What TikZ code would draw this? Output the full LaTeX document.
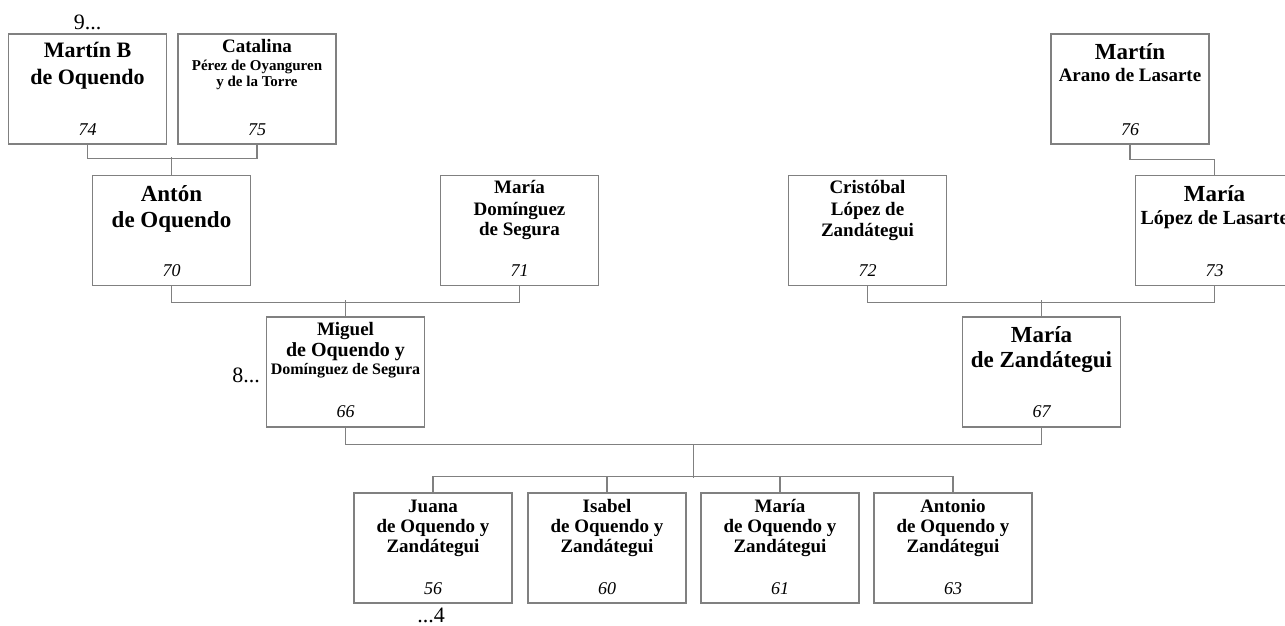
\documentclass[tikz,border=0pt]{standalone}
\usepackage{fontspec}
\setmainfont{Liberation Serif}
\usetikzlibrary{calc}
\definecolor{lc}{RGB}{128,128,128}
\tikzset{
 pbox/.style={draw=lc, line width=1.2pt, minimum width=158pt, minimum height=110pt, inner sep=0pt},
 tline/.style={anchor=base, inner sep=0pt},
 conn/.style={draw=lc, line width=1.2pt},
 gen/.style={anchor=base, inner sep=0pt, font=\fontsize{22}{22}\selectfont},
}
\newcommand\nmline[5]{\node[tline,font={#4}] (#1) at (#2,#3) {#5};}
\newcommand\bsz[1]{\fontsize{#1}{#1}\selectfont\bfseries}
\newcommand\isz{\fontsize{18}{18}\selectfont\itshape}
\begin{document}
\begin{tikzpicture}[x=1pt,y=-1pt]
\useasboundingbox (0,0) rectangle (1285,625);
% boxes
\node[pbox] (p74) at (87.5,89) {};
\node[pbox] (p75) at (257,89) {};
\node[pbox] (p76) at (1130,89) {};
\node[pbox] (p70) at (171.5,230.5) {};
\node[pbox] (p71) at (519.5,230.5) {};
\node[pbox] (p72) at (867.5,230.5) {};
\node[pbox] (p73) at (1214.5,230.5) {};
\node[pbox] (p66) at (345.5,372) {};
\node[pbox] (p67) at (1041.5,372) {};
\node[pbox] (c56) at (433,548) {};
\node[pbox] (c60) at (607,548) {};
\node[pbox] (c61) at (780,548) {};
\node[pbox] (c63) at (953,548) {};
% texts
\nmline{t74a}{87.5}{57.5}{\bsz{22}}{Martín B}
\nmline{t74b}{87.5}{84}{\bsz{22}}{de Oquendo}
\nmline{n74}{87.5}{135}{\isz}{74}
\nmline{t75a}{257}{52}{\bsz{19}}{Catalina}
\nmline{t75b}{257}{70}{\bsz{15}}{Pérez de Oyanguren}
\nmline{t75c}{257}{86}{\bsz{15}}{y de la Torre}
\nmline{n75}{257}{135}{\isz}{75}
\nmline{t76a}{1130}{59}{\bsz{23}}{Martín}
\nmline{t76b}{1130}{81}{\bsz{19}}{Arano de Lasarte}
\nmline{n76}{1130}{135}{\isz}{76}
\nmline{t70a}{171.5}{201}{\bsz{23}}{Antón}
\nmline{t70b}{171.5}{227}{\bsz{23}}{de Oquendo}
\nmline{n70}{171.5}{276}{\isz}{70}
\nmline{t71a}{519.5}{193}{\bsz{19}}{María}
\nmline{t71b}{519.5}{215}{\bsz{19}}{Domínguez}
\nmline{t71c}{519.5}{235}{\bsz{19}}{de Segura}
\nmline{n71}{519.5}{276}{\isz}{71}
\nmline{t72a}{867.5}{193}{\bsz{19}}{Cristóbal}
\nmline{t72b}{867.5}{215}{\bsz{19}}{López de}
\nmline{t72c}{867.5}{236}{\bsz{19}}{Zandátegui}
\nmline{n72}{867.5}{276}{\isz}{72}
\nmline{t73a}{1214.5}{201}{\bsz{23}}{María}
\nmline{t73b}{1214.5}{224}{\bsz{20}}{López de Lasarte}
\nmline{n73}{1214.5}{276}{\isz}{73}
\nmline{t66a}{345.5}{335}{\bsz{19}}{Miguel}
\nmline{t66b}{345.5}{356}{\bsz{20}}{de Oquendo y}
\nmline{t66c}{345.5}{374}{\bsz{16}}{Domínguez de Segura}
\nmline{n66}{345.5}{417}{\isz}{66}
\nmline{t67a}{1041.5}{342}{\bsz{23}}{María}
\nmline{t67b}{1041.5}{367}{\bsz{23}}{de Zandátegui}
\nmline{n67}{1041.5}{417}{\isz}{67}
\nmline{t56a}{433}{512}{\bsz{19}}{Juana}
\nmline{t56b}{433}{532}{\bsz{19}}{de Oquendo y}
\nmline{t56c}{433}{552}{\bsz{19}}{Zandátegui}
\nmline{n56}{433}{594}{\isz}{56}
\nmline{t60a}{607}{512}{\bsz{19}}{Isabel}
\nmline{t60b}{607}{532}{\bsz{19}}{de Oquendo y}
\nmline{t60c}{607}{552}{\bsz{19}}{Zandátegui}
\nmline{n60}{607}{594}{\isz}{60}
\nmline{t61a}{780}{512}{\bsz{19}}{María}
\nmline{t61b}{780}{532}{\bsz{19}}{de Oquendo y}
\nmline{t61c}{780}{552}{\bsz{19}}{Zandátegui}
\nmline{n61}{780}{594}{\isz}{61}
\nmline{t63a}{953}{512}{\bsz{19}}{Antonio}
\nmline{t63b}{953}{532}{\bsz{19}}{de Oquendo y}
\nmline{t63c}{953}{552}{\bsz{19}}{Zandátegui}
\nmline{n63}{953}{594}{\isz}{63}
% generation labels
\node[gen] (g9) at (87.5,29) {9...};
\node[gen, anchor=base east] (g8) at (260,382) {8...};
\node[gen] (g4) at (431,622) {...4};
% connectors
\draw[conn] (p74.south) -- ++(0,14) -| (p75.south);
\draw[conn] (p70.north) -- ++(0,-17.5);
\draw[conn] (p76.south) -- ++(0,15) -| (p73.north);
\draw[conn] (p70.south) -- ++(0,16) -| (p71.south);
\draw[conn] (p66.north) -- ++(0,-16);
\draw[conn] (p72.south) -- ++(0,16) -| (p73.south);
\draw[conn] (p67.north) -- ++(0,-16);
\draw[conn] (p66.south) -- ++(0,16.5) -| (p67.south);
\coordinate (mid) at ($(p66.south)!0.5!(p67.south)+(0,16.5)$);
\draw[conn] (mid) -- ++(0,34);
\draw[conn] (c56.north) -- ++(0,-16) -| (c63.north);
\draw[conn] (c60.north) -- ++(0,-16);
\draw[conn] (c61.north) -- ++(0,-16);
\end{tikzpicture}
\end{document}
